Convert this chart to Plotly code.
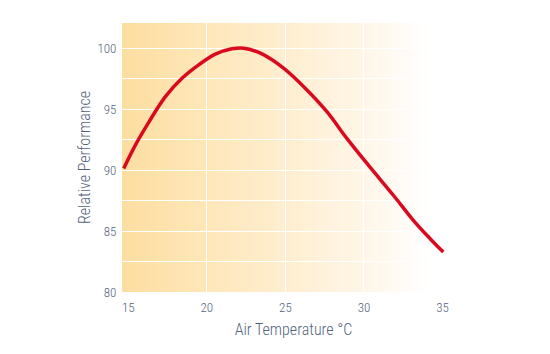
import plotly.graph_objects as go

# Data
temperature = [14.71, 15.45, 16.30, 17.36, 18.42, 19.48, 20.54, 21.60, 22.35,
               23.41, 24.88, 26.37, 27.64, 28.91, 30.28, 31.87, 33.14, 34.21, 35.05]
performance = [90.15, 92.07, 93.94, 96.05, 97.56, 98.66, 99.54, 99.98, 100.03,
               99.62, 98.39, 96.60, 94.81, 92.62, 90.42, 87.95, 85.89, 84.38, 83.28]

x_ticks = [15, 20, 25, 30, 35]
y_ticks = [80, 85, 90, 95, 100]

FONT = "Roboto Condensed, Liberation Sans Narrow, Roboto, sans-serif"
TEXT = "#53647d"

# background gradient stops (fraction of plot width, rgb)
stops = [(0.0, (253, 222, 160)), (0.38, (254, 235, 198)),
         (0.69, (255, 245, 230)), (0.90, (255, 255, 255)), (1.0, (255, 255, 255))]

def col(f):
    for (f0, c0), (f1, c1) in zip(stops[:-1], stops[1:]):
        if f0 <= f <= f1:
            t = (f - f0) / (f1 - f0) if f1 > f0 else 0
            return "rgb(%d,%d,%d)" % tuple(round(a + (b - a) * t) for a, b in zip(c0, c1))
    return "rgb(255,255,255)"

N = 120
shapes = []
for i in range(N):
    f0 = i / N
    f1 = (i + 1) / N
    shapes.append(dict(type="rect", xref="x domain", yref="y domain",
                       x0=f0, x1=min(1, f1 + 0.004), y0=0, y1=1,
                       fillcolor=col((f0 + f1) / 2), line=dict(width=0),
                       layer="below"))

fig = go.Figure()
fig.add_trace(go.Scatter(x=temperature, y=performance, mode="lines",
                         line=dict(color="#DA0A1E", width=3.5, shape="spline", smoothing=1.0),
                         hoverinfo="skip"))

fig.update_layout(
    width=550, height=354,
    margin=dict(l=122, r=85, t=23, b=62),
    paper_bgcolor="white", plot_bgcolor="rgba(0,0,0,0)",
    showlegend=False,
    shapes=shapes,
    font=dict(family=FONT, color=TEXT, weight=300),
)
fig.update_xaxes(range=[14.6, 36.43], tickvals=x_ticks, ticktext=[str(v) for v in x_ticks],
                 showgrid=False, zeroline=False, showline=False,
                 ticks="outside", ticklen=3, tickcolor="rgba(0,0,0,0)",
                 tickfont=dict(size=13, color=TEXT, weight=300),
                 minor=dict(tickvals=[20, 25, 30], showgrid=True, gridcolor="white", gridwidth=1),
                 title=dict(text="Air Temperature °C", font=dict(size=16, color=TEXT, weight=300), standoff=10))
fig.update_yaxes(range=[80, 102.1], tickvals=y_ticks, ticktext=[str(v) for v in y_ticks],
                 showgrid=True, gridcolor="white", gridwidth=1,
                 zeroline=False, showline=False,
                 ticks="outside", ticklen=2, tickcolor="rgba(0,0,0,0)",
                 tickfont=dict(size=13, color=TEXT, weight=300),
                 minor=dict(dtick=2.5, showgrid=True, gridcolor="white", gridwidth=1),
                 title=dict(text="Relative Performance", font=dict(size=16, color=TEXT, weight=300), standoff=2))

fig.write_html("out.html")
